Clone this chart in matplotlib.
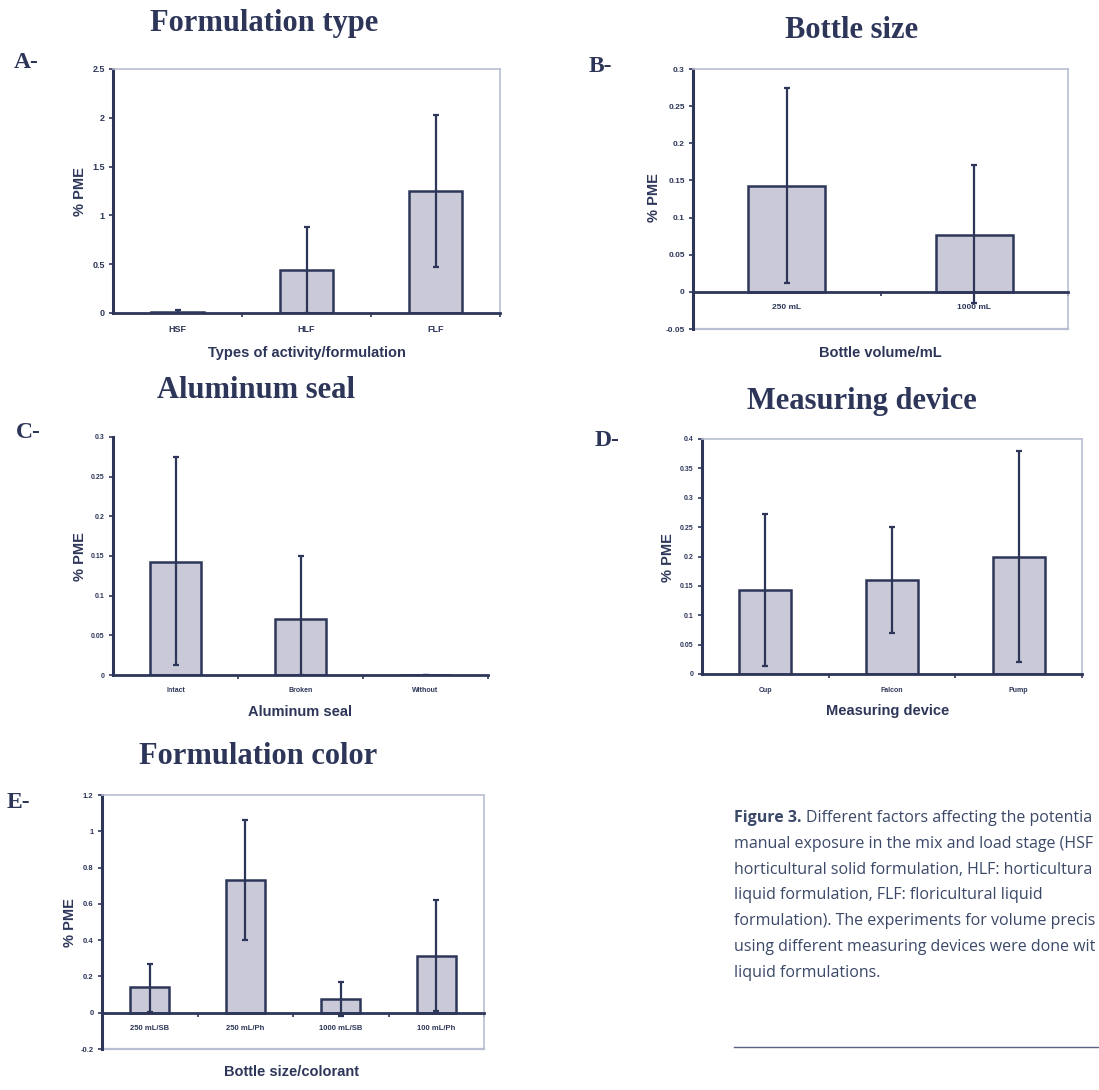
import matplotlib
matplotlib.use('Agg')
import matplotlib.pyplot as plt
from matplotlib.lines import Line2D

W, H = 1099, 1090
NAVY = '#2d3659'
FRAME = '#b9bfd2'
BAR = '#c9c9d7'
CAPTION = '#3b4868'

# A - formulation type
type_cats = ['HSF', 'HLF', 'FLF']
type_mean = [0.015, 0.44, 1.25]
type_low = [0.0, 0.0, 0.47]
type_high = [0.03, 0.88, 2.03]

# B - bottle size
bottle_cats = ['250 mL', '1000 mL']
bottle_mean = [0.143, 0.077]
bottle_low = [0.012, -0.015]
bottle_high = [0.275, 0.171]

# C - aluminum seal
seal_cats = ['Intact', 'Broken', 'Without']
seal_mean = [0.143, 0.07, 0.0]
seal_low = [0.013, 0.0, 0.0]
seal_high = [0.275, 0.15, 0.0]

# D - measuring device
device_cats = ['Cup', 'Falcon', 'Pump']
device_mean = [0.143, 0.16, 0.2]
device_low = [0.013, 0.07, 0.02]
device_high = [0.272, 0.25, 0.38]

# E - formulation color
color_cats = ['250 mL/SB', '250 mL/Ph', '1000 mL/SB', '100 mL/Ph']
color_mean = [0.14, 0.73, 0.075, 0.315]
color_low = [0.005, 0.4, -0.02, 0.01]
color_high = [0.27, 1.06, 0.17, 0.62]

# caption column, as far as it shows before the right page edge
caption_lines = [
    'Different factors affecting the potentia',
    'manual exposure in the mix and load stage (HSF',
    'horticultural solid formulation, HLF: horticultura',
    'liquid formulation, FLF: floricultural liquid',
    'formulation). The experiments for volume precis',
    'using different measuring devices were done wit',
    'liquid formulations.',
]

SERIF = 'Liberation Serif'
SANS = 'Liberation Sans'
CAP_FONT = 'Open Sans'


def fx(x):
    return x / W


def fy(y):
    return 1 - y / H


def make_axes(fig, left, top, right, bottom):
    return fig.add_axes([fx(left), fy(bottom), (right - left) / W, (bottom - top) / H])


def panel(fig, box, cats, mean, low, high, ylim, yticks, title, title_xy,
          letter, letter_xy, xlabel, xlabel_xy, ylabel_xy, tick_size,
          framed=True):
    ax = make_axes(fig, *box)
    n = len(cats)
    xs = list(range(n))
    err = [[m - lo for m, lo in zip(mean, low)],
           [hi - m for m, hi in zip(mean, high)]]
    ax.bar(xs, mean, width=0.41, color=BAR, edgecolor=NAVY, linewidth=1.8,
           zorder=2)
    ax.errorbar(xs, mean, yerr=err, fmt='none', ecolor=NAVY, elinewidth=1.6,
                capsize=2, capthick=1.6, zorder=3)
    ax.set_xlim(-0.5, n - 0.5)
    ax.set_ylim(*ylim)

    ax.spines['bottom'].set_position(('data', 0))
    ax.spines['bottom'].set_color(NAVY)
    ax.spines['bottom'].set_linewidth(2)
    ax.spines['bottom'].set_zorder(4)
    ax.spines['left'].set_color(NAVY)
    ax.spines['left'].set_linewidth(2.2)
    for side in ('top', 'right'):
        if framed:
            ax.spines[side].set_color(FRAME)
            ax.spines[side].set_linewidth(1.2)
        else:
            ax.spines[side].set_visible(False)
    if framed and ylim[0] < 0:
        ax.axhline(ylim[0], color=FRAME, linewidth=1.6, clip_on=False)

    ax.set_yticks(yticks)
    ax.set_yticklabels([f'{v:g}' for v in yticks])
    ax.tick_params(axis='y', direction='out', length=3, width=1.2,
                   color=NAVY, labelcolor=NAVY, labelsize=tick_size, pad=3)
    # category boundaries get the tick marks, centres carry the labels
    ax.set_xticks([i + 0.5 for i in range(n)])
    ax.set_xticklabels([])
    ax.set_xticks(xs, minor=True)
    ax.set_xticklabels(cats, minor=True)
    ax.tick_params(axis='x', which='major', direction='out', length=3,
                   width=1.2, color=NAVY)
    ax.tick_params(axis='x', which='minor', length=0, labelcolor=NAVY,
                   labelsize=tick_size, pad=9)
    for lbl in ax.get_xticklabels(minor=True) + ax.get_yticklabels():
        lbl.set_fontfamily(SANS)
        lbl.set_fontweight('bold')

    fig.text(fx(title_xy[0]), fy(title_xy[1]), title, family=SERIF,
             fontweight='bold', fontsize=22, color=NAVY,
             ha='center', va='center')
    fig.text(fx(letter_xy[0]), fy(letter_xy[1]), letter, family=SERIF,
             fontweight='bold', fontsize=17, color=NAVY,
             ha='left', va='center')
    fig.text(fx(xlabel_xy[0]), fy(xlabel_xy[1]), xlabel, family=SANS,
             fontweight='bold', fontsize=10.5, color=NAVY,
             ha='center', va='center')
    fig.text(fx(ylabel_xy[0]), fy(ylabel_xy[1]), '% PME', family=SANS,
             fontweight='bold', fontsize=10.5, color=NAVY, rotation=90,
             ha='center', va='center')
    return ax


fig = plt.figure(figsize=(W / 100, H / 100), dpi=100)
fig.patch.set_facecolor('white')

panel(fig, (113, 69, 500, 313), type_cats, type_mean, type_low, type_high,
      (0, 2.5), [0, 0.5, 1, 1.5, 2, 2.5], 'Formulation type', (264, 23),
      'A-', (14, 62), 'Types of activity/formulation', (307, 353), (80, 192),
      6.5)

panel(fig, (693, 69, 1068, 329), bottle_cats, bottle_mean, bottle_low,
      bottle_high, (-0.05, 0.3), [-0.05, 0, 0.05, 0.1, 0.15, 0.2, 0.25, 0.3],
      'Bottle size', (852, 31), 'B-', (589, 66), 'Bottle volume/mL',
      (880, 353), (654, 198), 6)

panel(fig, (113, 437, 488, 675), seal_cats, seal_mean, seal_low, seal_high,
      (0, 0.3), [0, 0.05, 0.1, 0.15, 0.2, 0.25, 0.3], 'Aluminum seal',
      (256, 391), 'C-', (16, 433), 'Aluminum seal', (300, 712), (80, 557),
      5, framed=False)

panel(fig, (702, 439, 1082, 674), device_cats, device_mean, device_low,
      device_high, (0, 0.4), [0, 0.05, 0.1, 0.15, 0.2, 0.25, 0.3, 0.35, 0.4],
      'Measuring device', (862, 402), 'D-', (595, 440), 'Measuring device',
      (888, 711), (668, 558), 5)

panel(fig, (102, 795, 484, 1049), color_cats, color_mean, color_low,
      color_high, (-0.2, 1.2), [-0.2, 0, 0.2, 0.4, 0.6, 0.8, 1, 1.2],
      'Formulation color', (258, 757), 'E-', (7, 802),
      'Bottle size/colorant', (292, 1072), (70, 923), 5.5)

# figure caption
cap_x, cap_y, step, cap_size = 734, 818, 25.8, 11.5
head = fig.text(fx(cap_x), fy(cap_y), 'Figure 3.', family=CAP_FONT,
                fontweight='bold', fontsize=cap_size, color=CAPTION,
                ha='left', va='center')
renderer = fig.canvas.get_renderer()
head_right = head.get_window_extent(renderer).x1
fig.text(head_right / W + 5 / W, fy(cap_y), caption_lines[0],
         family=CAP_FONT, fontsize=cap_size, color=CAPTION, ha='left',
         va='center')
for i, line in enumerate(caption_lines[1:], start=1):
    fig.text(fx(cap_x), fy(cap_y + i * step), line, family=CAP_FONT,
             fontsize=cap_size, color=CAPTION, ha='left', va='center')

fig.add_artist(Line2D([fx(cap_x), 1.0], [fy(1047), fy(1047)],
                      color='#5a6480', linewidth=1))

fig.savefig('out.png', dpi=100)
